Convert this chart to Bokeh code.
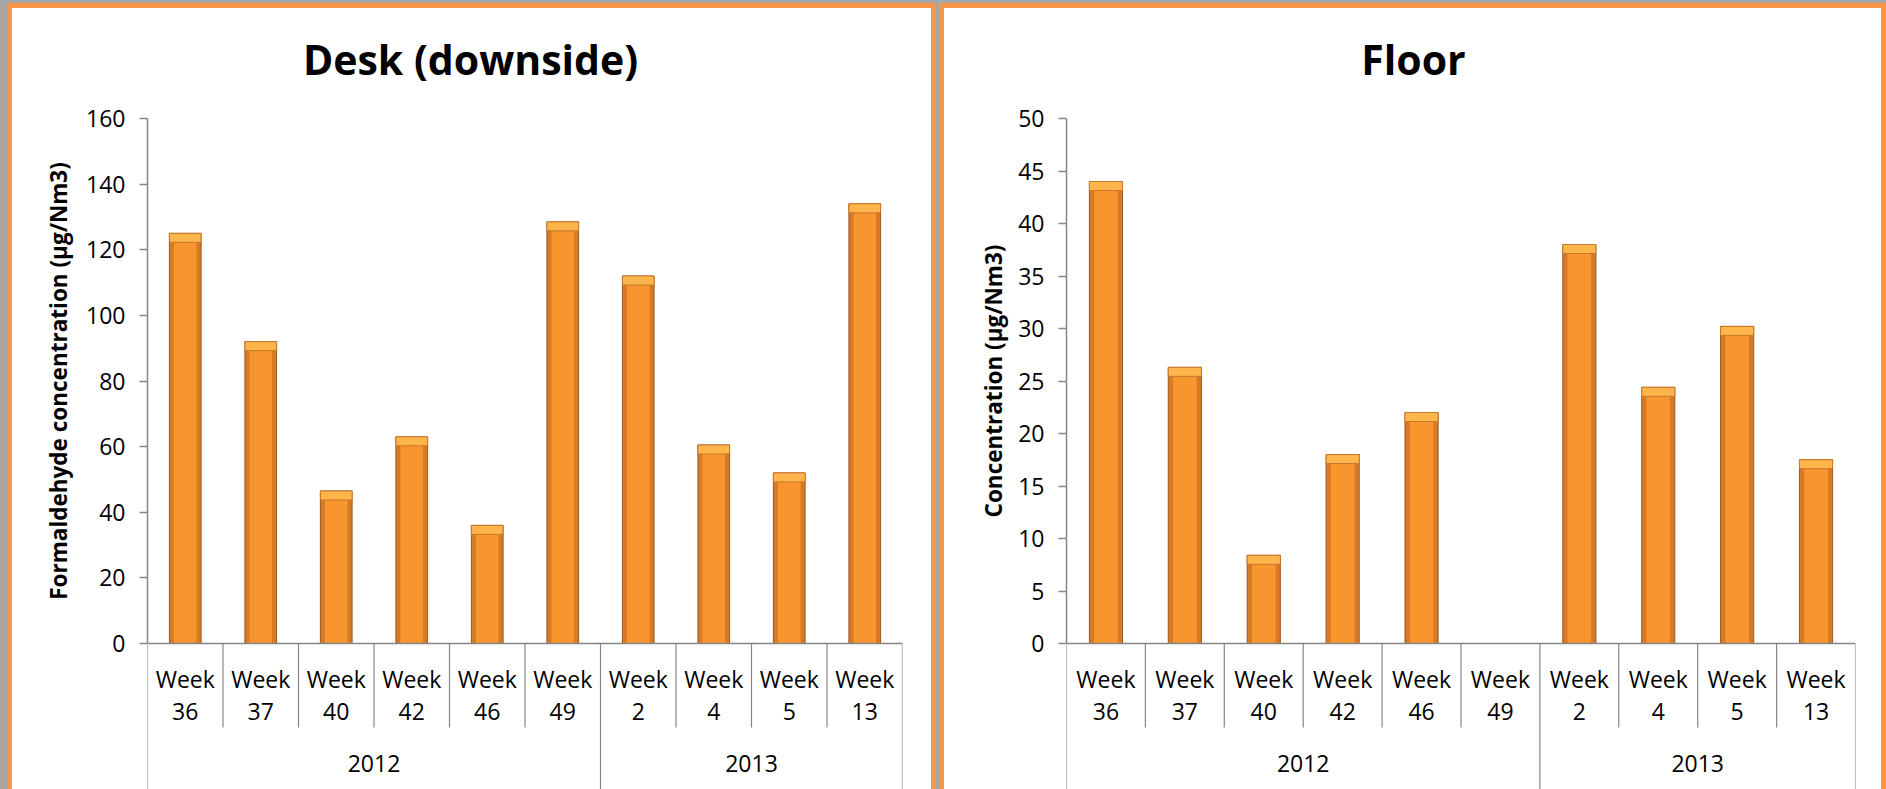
import math
import numpy as np
from bokeh.plotting import figure
from bokeh.models import (FactorRange, Range1d, LinearAxis, CategoricalAxis, FixedTicker,
                          ColumnDataSource, Label)
from bokeh.core.properties import value
from bokeh.layouts import row
from bokeh.embed import file_html
from bokeh.resources import INLINE

# ---------------- data ----------------
years = ["2012", "2012", "2012", "2012", "2012", "2012", "2013", "2013", "2013", "2013"]
weeks = ["36", "37", "40", "42", "46", "49", "2", "4", "5", "13"]
desk_values = [125, 92, 46.5, 63, 36, 128.5, 112, 60.5, 52, 134]
floor_values = [44, 26.3, 8.4, 18, 22, None, 38, 24.4, 30.2, 17.5]
desk_ticks = [0, 20, 40, 60, 80, 100, 120, 140, 160]
floor_ticks = [0, 5, 10, 15, 20, 25, 30, 35, 40, 45, 50]
desk_title = "Desk (downside)"
floor_title = "Floor"
desk_ylabel = "Formaldehyde concentration (µg/Nm3)"
floor_ylabel = "Concentration (µg/Nm3)"

factors = [(y, "Week\n" + w) for y, w in zip(years, weeks)]
year_groups = sorted(set(years))

H = 789
Y_TOP_PX, Y0_PX = 118.0, 643.0
FONT = "Open Sans"
AXIS_GREY = "#868686"
ORANGE = "#F79646"
GREY_BG = "#A6A6A6"


def card_css(white_l, white_r, orange_l, orange_r):
    # grey page, orange card border, white card inside (painted behind the transparent canvas)
    return {
        "background":
            f"linear-gradient(#ffffff, #ffffff) {white_l}px 8px / {white_r - white_l}px {H}px no-repeat, "
            f"linear-gradient({ORANGE}, {ORANGE}) {orange_l}px 3px / {orange_r - orange_l}px {H}px no-repeat, "
            f"{GREY_BG}"
    }


def label_strip(text, width, cx, css):
    """Narrow strip holding the rotated y-axis title, centred on the value axis."""
    p = figure(width=width, height=H, x_range=Range1d(0, 1), y_range=Range1d(0, 1),
               output_backend="svg", toolbar_location=None,
               x_axis_location=None, y_axis_location=None,
               min_border_left=0, min_border_right=0, min_border_top=0, min_border_bottom=0,
               styles=css)
    p.grid.visible = False
    p.outline_line_color = None
    p.background_fill_alpha = 0
    p.border_fill_alpha = 0
    p.add_layout(Label(x=cx, y=H - (Y_TOP_PX + Y0_PX) / 2,
                       x_units="screen", y_units="screen", angle=math.pi / 2,
                       text=text, text_font=FONT, text_font_size="22.5px",
                       text_font_style="bold", text_color="#000000",
                       text_align="center", text_baseline="middle"))
    return p


def make_panel(title, values, ymax, ticks, width, frame_l, frame_r, title_cx, css):
    ppu = (Y0_PX - Y_TOP_PX) / ymax
    y_end = ymax + Y_TOP_PX / ppu
    y_start = -(H - Y0_PX) / ppu

    p = figure(width=width, height=H,
               x_range=FactorRange(factors=factors, group_padding=0, range_padding=0,
                                   factor_padding=0, subgroup_padding=0),
               y_range=Range1d(y_start, y_end),
               output_backend="svg", toolbar_location=None,
               x_axis_location=None, y_axis_location=None,
               min_border_left=frame_l, min_border_right=width - frame_r,
               min_border_top=0, min_border_bottom=0,
               styles=css)
    p.grid.visible = False
    p.outline_line_color = None
    p.background_fill_alpha = 0
    p.border_fill_alpha = 0

    # y axis
    yaxis = LinearAxis(bounds=(0, ymax), ticker=FixedTicker(ticks=ticks))
    yaxis.axis_line_color = AXIS_GREY
    yaxis.axis_line_width = 1.5
    yaxis.major_tick_line_color = AXIS_GREY
    yaxis.major_tick_line_width = 1.5
    yaxis.major_tick_out = 8
    yaxis.major_tick_in = 0
    yaxis.minor_tick_line_color = None
    yaxis.major_label_text_font = FONT
    yaxis.major_label_text_font_size = "23px"
    yaxis.major_label_text_color = "#000000"
    yaxis.major_label_standoff = 14
    p.add_layout(yaxis, "left")

    # categorical x axis, drawn at y = 0
    xaxis = CategoricalAxis(fixed_location=0)
    xaxis.axis_line_color = AXIS_GREY
    xaxis.axis_line_width = 1.5
    xaxis.major_tick_line_color = None
    xaxis.minor_tick_line_color = None
    xaxis.major_label_orientation = "horizontal"
    xaxis.major_label_text_font = FONT
    xaxis.major_label_text_font_size = "23px"
    xaxis.major_label_text_color = "#000000"
    xaxis.major_label_text_line_height = 1.0
    xaxis.major_label_standoff = 13
    xaxis.group_text_color = None
    xaxis.separator_line_color = None
    p.add_layout(xaxis, "below")

    # year labels of the second category level
    ysrc = ColumnDataSource(dict(x=year_groups, y=[-(763.0 - Y0_PX) / ppu] * len(year_groups),
                                 t=year_groups))
    p.text(x="x", y="y", text="t", source=ysrc, text_font=value(FONT),
           text_font_size="23px", text_color="#000000",
           text_align="center", text_baseline="middle")

    # separators of the category table
    inner_y = -(727.0 - Y0_PX) / ppu
    sx, sy1 = [], []
    for i in range(len(factors) + 1):
        if i < len(factors):
            xb = list(factors[i]) + [-0.5]
        else:
            xb = list(factors[-1]) + [0.5]
        is_group = i == 0 or i == len(factors) or years[i] != years[i - 1]
        sx.append(xb)
        sy1.append(y_start if is_group else inner_y)
    sep = ColumnDataSource(dict(x=sx, y0=[0] * len(sx), y1=sy1))
    p.segment(x0="x", y0="y0", x1="x", y1="y1", source=sep,
              line_color=AXIS_GREY, line_width=1.2)

    # bars
    top = np.array([np.nan if v is None else v for v in values], dtype=float)
    bevel = 9.0 / ppu
    src = ColumnDataSource(dict(x=factors, top=top, bevel_bottom=top - bevel))
    p.vbar(x="x", top="top", bottom=0, width=0.42, source=src,
           fill_color="#D67A26", line_color="#9A5A22", line_width=1)
    p.vbar(x="x", top="top", bottom=0, width=0.30, source=src,
           fill_color="#F7952F", line_color=None)
    p.vbar(x="x", top="top", bottom="bevel_bottom", width=0.42, source=src,
           fill_color="#FDB54C", line_color="#C9782C", line_width=1)

    # title
    p.add_layout(Label(x=title_cx - frame_l, y=H - 58, x_units="screen", y_units="screen",
                       text=title, text_font=FONT, text_font_size="41px",
                       text_font_style="bold", text_color="#000000",
                       text_align="center", text_baseline="middle"))
    return p


# left card: x 0..937   (strip 0..76, chart 76..937)
s1 = label_strip(desk_ylabel, 76, 58, card_css(12, 2000, 7, 2000))
p1 = make_panel(desk_title, desk_values, 160, desk_ticks,
                width=861, frame_l=71, frame_r=826, title_cx=470 - 76,
                css=card_css(-100, 855, -100, 860))
# right card: x 937..1886 (strip 937..1009, chart 1009..1886)
s2 = label_strip(floor_ylabel, 72, 56, card_css(7, 2000, 2, 2000))
p2 = make_panel(floor_title, floor_values, 50, floor_ticks,
                width=877, frame_l=57, frame_r=846, title_cx=1413 - 1009,
                css=card_css(-100, 872, -100, 877))

layout = row(s1, p1, s2, p2)
open("out.html", "w").write(file_html(layout, INLINE))
